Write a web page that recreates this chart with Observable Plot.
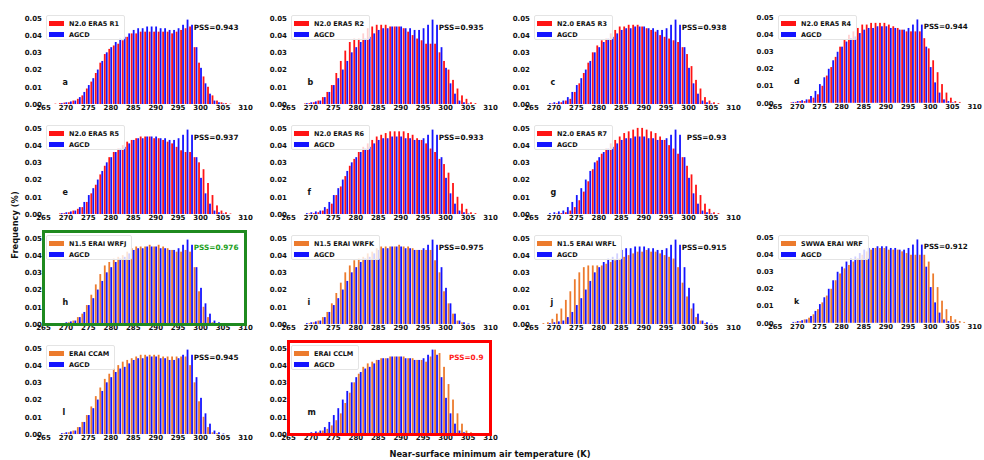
<!DOCTYPE html>
<html><head><meta charset="utf-8">
<script src="https://cdn.jsdelivr.net/npm/d3@7"></script>
<script src="https://cdn.jsdelivr.net/npm/@observablehq/plot@0.6"></script>
<style>
body{margin:0;background:#fff;font-family:"DejaVu Sans",sans-serif;}
#c{position:relative;width:984px;height:460px;overflow:hidden;background:#fff}
.p{position:absolute}
.p svg{overflow:visible}
.lg{position:absolute;background:rgba(255,255,255,0.8);border:1px solid #e4e4e4;border-radius:2px;font:bold 6.5px "DejaVu Sans";color:#111;padding:2px 5px 2px 1px;box-sizing:border-box;z-index:2}
.lg .row{display:flex;align-items:center;height:11px;white-space:nowrap}
.lg .sw{width:15px;height:5px;margin:0 5px 0 1px}
.ax{position:absolute;font:bold 8.3px "DejaVu Sans";color:#111;white-space:nowrap}
</style></head><body><div id="c"></div><script>
// temperature bins (K)
const temps = [268,269,270,271,272,273,274,275,276,277,278,279,280,281,282,283,284,285,286,287,288,289,290,291,292,293,294,295,296,297,298,299,300,301,302,303,304,305,306,307,308];
const xTicks = [265,270,275,280,285,290,295,300,305,310];
const yTicks = [0,0.01,0.02,0.03,0.04,0.05];

// observations
const agcd = [0,0.0005,0.001,0.0015,0.002,0.004,0.007,0.011,0.015,0.020,
 0.025,0.030,0.033,0.036,0.038,0.039,0.041,0.043,0.044,0.044,
 0.045,0.045,0.045,0.044,0.044,0.043,0.043,0.044,0.046,0.049,
 0.046,0.033,0.021,0.012,0.006,0.002,0.001,0.0003,0,0,0];

// models
const r1 = [0.0002,0.0005,0.0008,0.001,0.002,0.003,0.005,0.009,0.013,0.018,
 0.024,0.029,0.032,0.034,0.035,0.037,0.039,0.041,0.041,0.042,
 0.042,0.042,0.042,0.042,0.042,0.042,0.041,0.042,0.043,0.044,
 0.045,0.033,0.024,0.016,0.010,0.005,0.002,0.001,0.0005,0.0002,0];
const r2 = [0,0.0003,0.0005,0.001,0.002,0.004,0.007,0.011,0.018,0.025,
 0.031,0.036,0.038,0.038,0.041,0.044,0.045,0.046,0.046,0.046,
 0.045,0.045,0.045,0.044,0.042,0.040,0.038,0.037,0.035,0.035,
 0.035,0.030,0.025,0.020,0.014,0.009,0.005,0.003,0.001,0.0005,0];
const r3 = [0,0,0.0003,0.0005,0.001,0.002,0.003,0.007,0.012,0.018,
 0.024,0.030,0.034,0.037,0.038,0.041,0.043,0.045,0.045,0.046,
 0.046,0.046,0.045,0.044,0.043,0.042,0.040,0.039,0.038,0.037,
 0.036,0.033,0.029,0.022,0.014,0.009,0.004,0.002,0.001,0.0005,0];
const r4 = [0,0.0003,0.0005,0.001,0.001,0.002,0.003,0.005,0.010,0.016,
 0.021,0.027,0.033,0.037,0.040,0.042,0.044,0.046,0.046,0.047,
 0.047,0.047,0.047,0.046,0.045,0.044,0.043,0.042,0.042,0.042,
 0.042,0.038,0.032,0.025,0.018,0.011,0.006,0.003,0.001,0.0005,0];
const r5 = [0,0.0003,0.0005,0.001,0.002,0.003,0.004,0.007,0.012,0.017,
 0.023,0.028,0.033,0.036,0.038,0.040,0.042,0.043,0.044,0.045,
 0.045,0.045,0.044,0.044,0.043,0.042,0.041,0.039,0.037,0.036,
 0.036,0.033,0.030,0.026,0.018,0.011,0.005,0.002,0.001,0.0003,0];
const r6 = [0,0,0.0003,0.0005,0.001,0.002,0.003,0.006,0.011,0.016,
 0.022,0.028,0.032,0.036,0.039,0.041,0.043,0.045,0.046,0.047,
 0.048,0.048,0.048,0.048,0.047,0.046,0.044,0.043,0.041,0.038,
 0.036,0.032,0.029,0.024,0.018,0.010,0.006,0.003,0.001,0.0005,0];
const r7 = [0,0,0,0.0003,0.0005,0.001,0.002,0.004,0.008,0.013,
 0.019,0.026,0.031,0.035,0.038,0.041,0.043,0.045,0.047,0.048,
 0.049,0.050,0.050,0.049,0.048,0.047,0.045,0.043,0.040,0.038,
 0.035,0.033,0.028,0.023,0.017,0.011,0.006,0.003,0.001,0.0005,0];
const wrfj = [0,0,0,0.001,0.002,0.004,0.006,0.011,0.017,0.023,
 0.029,0.034,0.036,0.038,0.039,0.040,0.042,0.044,0.045,0.045,
 0.045,0.046,0.045,0.046,0.045,0.044,0.043,0.042,0.042,0.043,
 0.042,0.033,0.019,0.010,0.004,0.001,0,0,0,0,0];
const wrfk = [0,0,0.0005,0.001,0.002,0.004,0.007,0.012,0.018,0.024,
 0.030,0.034,0.037,0.038,0.039,0.041,0.042,0.044,0.045,0.045,
 0.045,0.045,0.046,0.045,0.045,0.044,0.043,0.043,0.043,0.043,
 0.037,0.030,0.019,0.012,0.006,0.002,0.001,0,0,0,0];
const wrfl = [0.0005,0.001,0.003,0.006,0.009,0.014,0.019,0.026,0.030,0.033,
 0.034,0.034,0.034,0.034,0.035,0.036,0.037,0.038,0.039,0.040,
 0.041,0.042,0.042,0.043,0.042,0.042,0.041,0.040,0.039,0.038,
 0.033,0.024,0.016,0.009,0.004,0.002,0.0005,0,0,0,0];
const swwa = [0,0,0.0005,0.001,0.002,0.003,0.005,0.008,0.012,0.016,
 0.020,0.025,0.029,0.032,0.034,0.036,0.038,0.040,0.042,0.043,
 0.044,0.044,0.044,0.043,0.043,0.043,0.042,0.041,0.040,0.040,
 0.040,0.040,0.036,0.029,0.021,0.013,0.008,0.004,0.002,0.001,0.0005];
const ccam = [0,0,0.0005,0.001,0.002,0.004,0.007,0.011,0.016,0.022,
 0.027,0.032,0.035,0.038,0.040,0.042,0.043,0.044,0.045,0.046,
 0.046,0.046,0.046,0.046,0.045,0.045,0.045,0.045,0.045,0.045,
 0.040,0.030,0.019,0.010,0.004,0.001,0.0005,0,0,0,0];
const cclm = [0,0,0,0.0005,0.001,0.002,0.003,0.005,0.008,0.012,
 0.018,0.024,0.030,0.035,0.039,0.041,0.042,0.043,0.044,0.044,
 0.045,0.045,0.045,0.045,0.044,0.044,0.043,0.043,0.042,0.045,
 0.049,0.047,0.039,0.029,0.020,0.012,0.006,0.002,0.001,0,0];

const letters = ["a","b","c","d","e","f","g","h","i","j","k","l","m"];
const names = ["N2.0 ERA5 R1","N2.0 ERA5 R2","N2.0 ERA5 R3","N2.0 ERA5 R4","N2.0 ERA5 R5","N2.0 ERA5 R6","N2.0 ERA5 R7",
  "N1.5 ERAI WRFJ","N1.5 ERAI WRFK","N1.5 ERAI WRFL","SWWA ERAI WRF","ERAI CCAM","ERAI CCLM"];
const models = [r1,r2,r3,r4,r5,r6,r7,wrfj,wrfk,wrfl,swwa,ccam,cclm];
const pss = ["PSS=0.943","PSS=0.935","PSS=0.938","PSS=0.944","PSS=0.937","PSS=0.933","PSS=0.93",
  "PSS=0.976","PSS=0.975","PSS=0.915","PSS=0.912","PSS=0.945","PSS=0.9"];
const obsName = "AGCD";

// layout / style
const RED = "#ff1414", BLUE = "#1414ff", ORANGE = "#ec7b2d";
const colX = [43, 288, 531, 775];
const rowY = [11, 121, 231, 341];
const grid = [[0,0],[1,0],[2,0],[3,0],[0,1],[1,1],[2,1],[0,2],[1,2],[2,2],[3,2],[0,3],[1,3]];
const PW = 202, PH = 93;
const ML = 28, MR = 10, MT = 3, MB = 12;
const highlight = {7: {frame: "#1f8a1f", text: "#22a022"}, 12: {frame: "#ff0000", text: "#ff1a1a"}};

const c = document.getElementById("c");
models.forEach((model, k) => {
  const [ci, ri] = grid[k];
  const color = k < 7 ? RED : ORANGE;
  const data = temps.map((t, i) => ({t, m: model[i], o: agcd[i]}));
  const hl = highlight[k];
  const marks = [
    Plot.rectY(data, {x1: d => d.t - 0.44, x2: d => d.t - 0.04, y: "m", fill: color}),
    Plot.rectY(data, {x1: d => d.t + 0.0, x2: d => d.t + 0.40, y: "o", fill: BLUE}),
    Plot.text([letters[k]], {text: d => d, frameAnchor: "bottom-left", dx: 19, dy: -20, fontSize: 8, fontWeight: "bold", fill: "#111"}),
    Plot.text([pss[k]], {text: d => d, frameAnchor: "top-right", dx: -7, dy: 13, textAnchor: "end", fontSize: 7.3, fontWeight: "bold", fill: hl ? hl.text : "#111"})
  ];
  if (hl) marks.push(Plot.frame({stroke: hl.frame, strokeWidth: 3}));
  const svg = Plot.plot({
    width: ML + PW + MR, height: MT + PH + MB,
    marginLeft: ML, marginRight: MR, marginTop: MT, marginBottom: MB,
    x: {domain: [265, 310], ticks: xTicks, tickSize: 0, tickPadding: 1, label: null},
    y: {domain: [0, 0.054], ticks: yTicks, tickFormat: d3.format(".2f"), tickSize: 0, tickPadding: 1.5, label: null},
    style: {fontFamily: "DejaVu Sans", fontSize: "7px", fontWeight: "bold", background: "transparent", color: "#111", overflow: "visible"},
    marks
  });
  const wrap = document.createElement("div");
  wrap.className = "p";
  wrap.style.left = (colX[ci] - ML) + "px";
  wrap.style.top = (rowY[ri] - MT) + "px";
  wrap.appendChild(svg);
  c.appendChild(wrap);

  const lg = document.createElement("div");
  lg.className = "lg";
  lg.style.left = (colX[ci] + 3) + "px";
  lg.style.top = (rowY[ri] + 4) + "px";
  lg.style.height = "25px";
  lg.innerHTML = `<div class="row"><span class="sw" style="background:${color}"></span>${names[k]}</div>` +
                 `<div class="row"><span class="sw" style="background:${BLUE}"></span>${obsName}</div>`;
  c.appendChild(lg);
});

const yl = document.createElement("div");
yl.className = "ax";
yl.textContent = "Frequency (%)";
yl.style.left = "15px"; yl.style.top = "225px";
yl.style.transform = "translate(-50%,-50%) rotate(-90deg)";
c.appendChild(yl);

const xl = document.createElement("div");
xl.className = "ax";
xl.textContent = "Near-surface minimum air temperature (K)";
xl.style.left = "490px"; xl.style.top = "454px";
xl.style.transform = "translate(-50%,-50%)";
c.appendChild(xl);
</script></body></html>
